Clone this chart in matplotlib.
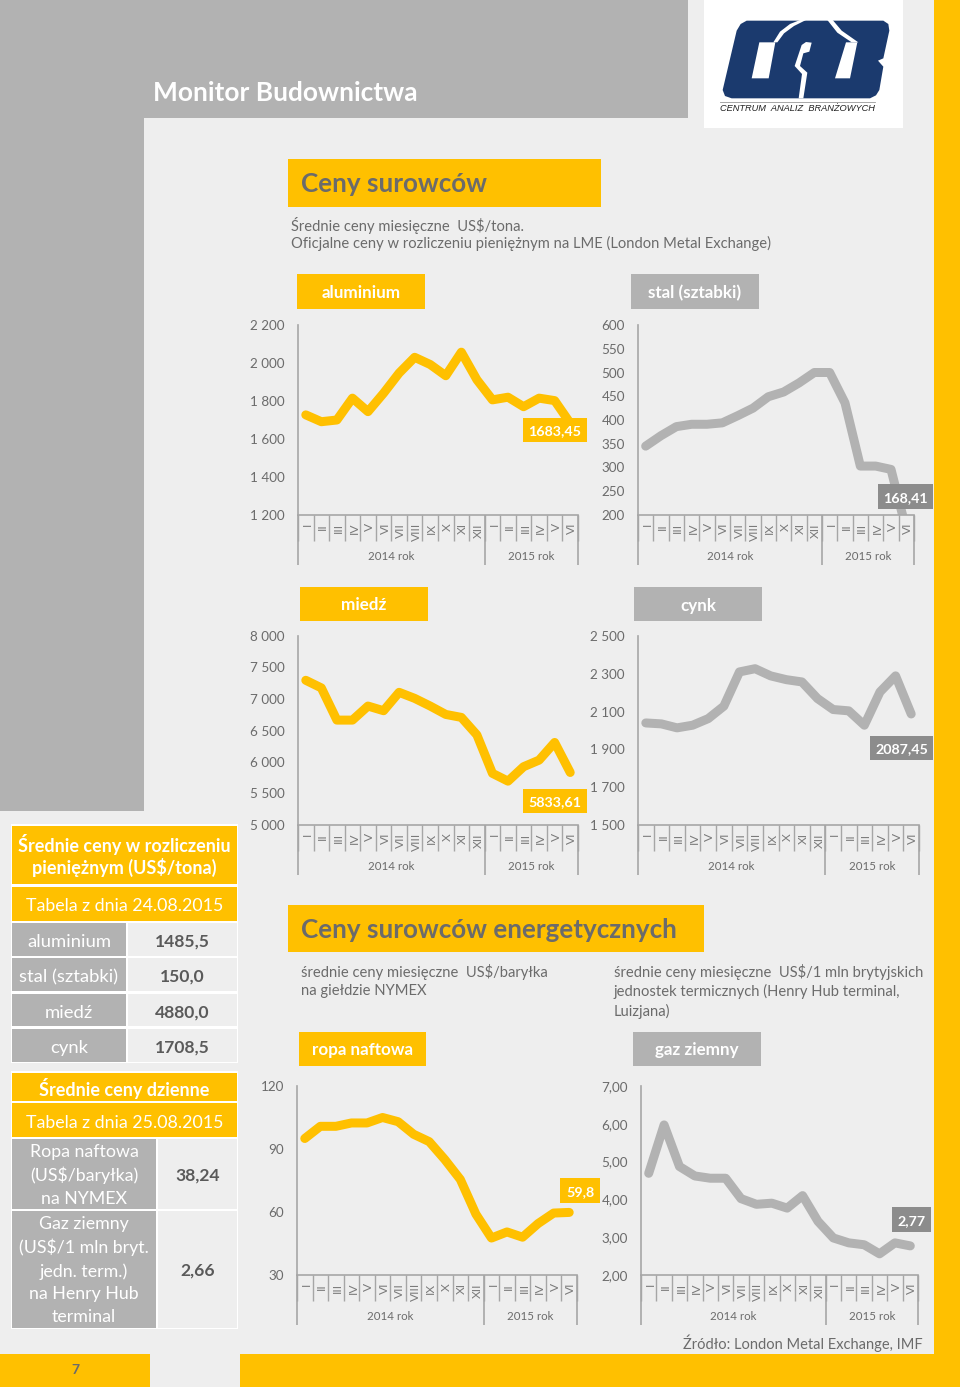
import matplotlib
matplotlib.use('Agg')
import matplotlib.pyplot as plt
from matplotlib.patches import Rectangle, Polygon
from matplotlib.transforms import ScaledTranslation

W, H = 960, 1387
YELLOW = '#FFC000'
GREY = '#B2B2B2'
DARK = '#8C8C8C'
TEXT = '#6B6B6B'
BG = '#EEEEEE'
AXIS = '#A6A6A6'
NAVY = '#1B3A6E'

plt.rcParams['font.family'] = ['Lato', 'DejaVu Sans']

months = ['I', 'II', 'III', 'IV', 'V', 'VI', 'VII', 'VIII', 'IX', 'X', 'XI', 'XII',
          'I', 'II', 'III', 'IV', 'V', 'VI']

aluminium = [1727, 1691, 1700, 1815, 1744, 1841, 1947, 2030, 1992, 1933, 2057, 1912,
             1806, 1820, 1770, 1815, 1802, 1683.45]
stal = [345, 367, 386, 391, 391, 394, 409, 425, 449, 459, 478, 500,
        500, 436, 303, 303, 296, 168.41]
miedz = [7297, 7176, 6665, 6665, 6888, 6814, 7106, 7010, 6888, 6755, 6708, 6430,
         5820, 5696, 5925, 6030, 6310, 5833.61]
cynk = [2040, 2035, 2014, 2028, 2063, 2129, 2310, 2327, 2289, 2269, 2257, 2169,
        2111, 2104, 2028, 2204, 2289, 2087.45]
ropa = [95, 100.8, 100.8, 102.4, 102.4, 105, 103, 97, 93.5, 85, 75.5, 59,
        47.6, 50.5, 48, 54.5, 59.5, 59.8]
gaz = [4.69, 5.97, 4.87, 4.62, 4.56, 4.56, 4.02, 3.87, 3.9, 3.77, 4.1, 3.42,
       2.98, 2.85, 2.8, 2.56, 2.85, 2.77]

alu_ticks = [1200, 1400, 1600, 1800, 2000, 2200]
alu_labels = ['1 200', '1 400', '1 600', '1 800', '2 000', '2 200']
stal_ticks = [200, 250, 300, 350, 400, 450, 500, 550, 600]
stal_labels = ['200', '250', '300', '350', '400', '450', '500', '550', '600']
miedz_ticks = [5000, 5500, 6000, 6500, 7000, 7500, 8000]
miedz_labels = ['5 000', '5 500', '6 000', '6 500', '7 000', '7 500', '8 000']
cynk_ticks = [1500, 1700, 1900, 2100, 2300, 2500]
cynk_labels = ['1 500', '1 700', '1 900', '2 100', '2 300', '2 500']
ropa_ticks = [30, 60, 90, 120]
ropa_labels = ['30', '60', '90', '120']
gaz_ticks = [2, 3, 4, 5, 6, 7]
gaz_labels = ['2,00', '3,00', '4,00', '5,00', '6,00', '7,00']

fig = plt.figure(figsize=(W / 100, H / 100), dpi=100, facecolor=BG)
bg = fig.add_axes([0, 0, 1, 1], zorder=0)
top = fig.add_axes([0, 0, 1, 1], zorder=10)
for a in (bg, top):
    a.set_xlim(0, W)
    a.set_ylim(H, 0)
    a.axis('off')


def px(size):
    return size * 0.72


def box(x0, y0, x1, y1, color, a=bg):
    a.add_patch(Rectangle((x0, y0), x1 - x0, y1 - y0, fc=color, ec='none'))


def txt(x, y, s, size, color=TEXT, ha='left', weight='normal', a=bg, **kw):
    a.text(x, y + 1.5, s, fontsize=px(size), color=color, ha=ha, va='center',
           fontweight=weight, **kw)


def label(x0, y0, x1, y1, color, s, size=17, a=bg, weight='bold'):
    box(x0, y0, x1, y1, color, a)
    txt((x0 + x1) / 2, (y0 + y1) / 2, s, size, 'white', 'center', weight, a)


def chart(x0, x1, y0, y1, values, ticks, ticklabels, color):
    ax = fig.add_axes([x0 / W, 1 - y1 / H, (x1 - x0) / W, (y1 - y0) / H], zorder=5)
    ax.patch.set_visible(False)
    ax.plot(range(18), values, color=color, lw=px(9), solid_capstyle='round',
            solid_joinstyle='round')
    ax.set_xlim(-0.5, 17.5)
    ax.set_ylim(ticks[0], ticks[-1])
    ax.set_yticks(ticks, ticklabels)
    ax.set_xticks(range(18), months, rotation=90)
    ax.set_xticks([i - 0.5 for i in range(19)], minor=True)
    ax.tick_params(axis='y', length=0, pad=px(13), labelsize=px(13.5), labelcolor=TEXT)
    ax.tick_params(axis='x', which='major', length=0, pad=px(8), labelsize=px(12), labelcolor='#7A7A7A')
    ax.tick_params(axis='x', which='minor', length=px(26), width=1, color=AXIS)
    shift = ScaledTranslation(1.5 / 100, 0, fig.dpi_scale_trans)
    for lab in ax.get_xticklabels():
        lab.set_va('top')
        lab.set_transform(lab.get_transform() + shift)
    for s in ('top', 'right'):
        ax.spines[s].set_visible(False)
    for s in ('left', 'bottom'):
        ax.spines[s].set_color(AXIS)
        ax.spines[s].set_linewidth(1.2)
    # long separators under the axis, years between them
    low = -50 / (y1 - y0)
    ax.vlines([-0.5, 11.5, 17.5], low, 0, color=AXIS, lw=1.2, clip_on=False,
              transform=ax.get_xaxis_transform())
    ymid = -41 / (y1 - y0)
    ax.text(5.5, ymid, '2014 rok', transform=ax.get_xaxis_transform(), ha='center',
            va='center', fontsize=px(11.5), color=TEXT)
    ax.text(14.5, ymid, '2015 rok', transform=ax.get_xaxis_transform(), ha='center',
            va='center', fontsize=px(11.5), color=TEXT)
    return ax


# page background blocks
box(0, 0, 144, 811, GREY)
box(0, 0, 688, 118, GREY)
box(934, 0, 960, H, YELLOW)
box(0, 1354, 150, H, YELLOW)
box(240, 1354, 960, H, YELLOW)

# logo
box(704, 0, 903, 128, 'white')
lx = lambda v: 720 + v / 3
ly = lambda v: 10 + v / 3
def poly(pts, color):
    bg.add_patch(Polygon([(lx(a), ly(b)) for a, b in pts], fc=color, ec='none'))
poly([(8, 240), (50, 62), (62, 42), (80, 32), (490, 32), (505, 42), (508, 62), (490, 145),
      (474, 152), (490, 170), (478, 240), (468, 256), (450, 265), (35, 265), (15, 258)], NAVY)
poly([(118, 97), (166, 97), (146, 205), (95, 205)], 'white')
poly([(378, 97), (412, 97), (390, 205), (345, 205)], 'white')
poly([(160, 97), (180, 65), (210, 42), (240, 30), (258, 30), (222, 48), (192, 70), (172, 97)], 'white')
poly([(322, 30), (338, 30), (365, 62), (415, 97), (395, 97), (352, 68)], 'white')
poly([(245, 105), (258, 96), (275, 98), (268, 125), (250, 130), (240, 168), (262, 188),
      (250, 265), (236, 265), (246, 192), (224, 168)], 'white')
bg.plot([lx(0), lx(465)], [ly(277), ly(277)], color='#999999', lw=0.6)
bg.text(797, 108.5, 'CENTRUM  ANALIZ  BRANŻOWYCH', fontsize=px(9.3), style='italic',
        family='Liberation Sans', color='#222222', ha='center', va='center')

# headings
txt(153, 91.5, 'Monitor Budownictwa', 26.3, 'white', weight='bold')
box(288, 159, 601, 207, YELLOW)
txt(301, 183, 'Ceny surowców', 26, TEXT, weight='bold')
txt(291, 224, 'Średnie ceny miesięczne  US$/tona.', 14.7)
txt(291, 242, 'Oficjalne ceny w rozliczeniu pieniężnym na LME (London Metal Exchange)', 14.7)

box(288, 905, 704, 952, YELLOW)
txt(301, 929, 'Ceny surowców energetycznych', 26, TEXT, weight='bold')
txt(301, 971, 'średnie ceny miesięczne  US$/baryłka', 14.7)
txt(301, 990, 'na giełdzie NYMEX', 14.7)
txt(614, 971, 'średnie ceny miesięczne  US$/1 mln brytyjskich', 14.7)
txt(614, 990, 'jednostek termicznych (Henry Hub terminal,', 14.7)
txt(614, 1010, 'Luizjana)', 14.7)
txt(683, 1342, 'Źródło: London Metal Exchange, IMF', 14.6)

# chart title boxes
label(297, 274, 425, 309, YELLOW, 'aluminium', 17)
label(631, 274, 759, 309, GREY, 'stal (sztabki)', 17)
label(300, 587, 428, 621, YELLOW, 'miedź', 17)
label(634, 587, 762, 621, GREY, 'cynk', 17)
label(299, 1032, 426, 1066, YELLOW, 'ropa naftowa', 17)
label(633, 1032, 761, 1066, GREY, 'gaz ziemny', 17)

# charts
chart(298, 578, 325, 515, aluminium, alu_ticks, alu_labels, YELLOW)
chart(638, 914, 325, 515, stal, stal_ticks, stal_labels, GREY)
chart(298, 578, 636, 825, miedz, miedz_ticks, miedz_labels, YELLOW)
chart(638, 919, 636, 825, cynk, cynk_ticks, cynk_labels, GREY)
chart(297, 577, 1086, 1275, ropa, ropa_ticks, ropa_labels, YELLOW)
chart(641, 918, 1086, 1275, gaz, gaz_ticks, gaz_labels, GREY)

# end of line value labels
label(523, 418, 587, 442, YELLOW, '1683,45', 14.3, top)
label(878, 484, 933, 509, DARK, '168,41', 14.3, top)
label(523, 789, 587, 813, YELLOW, '5833,61', 14.3, top)
label(870, 736, 933, 760, DARK, '2087,45', 14.3, top)
label(560, 1178, 600, 1203, YELLOW, '59,8', 14.3, top)
label(892, 1207, 931, 1232, DARK, '2,77', 14.3, top)

# left tables
box(11, 824, 238, 1063, 'white')
box(12, 826, 237, 884, YELLOW)
txt(124.5, 843, 'Średnie ceny w rozliczeniu', 18, 'white', 'center', 'bold')
txt(124.5, 866, 'pieniężnym (US$/tona)', 18, 'white', 'center', 'bold')
label(12, 887, 237, 922, YELLOW, 'Tabela z dnia 24.08.2015', 17.8, weight='normal')
box(12, 921, 237, 923, 'white')
rows1 = [('aluminium', '1485,5', 923, 956), ('stal (sztabki)', '150,0', 958, 991),
         ('miedź', '4880,0', 994, 1026), ('cynk', '1708,5', 1029, 1062)]
for name, val, y0, y1 in rows1:
    box(12, y0, 126, y1, GREY)
    txt(69, (y0 + y1) / 2 + 1, name, 18.5, 'white', 'center')
    box(128, y0, 237, y1, BG)
    txt(182.5, (y0 + y1) / 2 + 1, val, 17.5, '#5A5A5A', 'center', 'bold')

box(11, 1071, 238, 1329, 'white')
label(12, 1073, 237, 1101, YELLOW, 'Średnie ceny dzienne', 18)
box(12, 1103, 237, 1137, YELLOW)
txt(124.5, 1121, 'Tabela z dnia 25.08.2015', 17.8, 'white', 'center')
box(12, 1139, 156, 1209, GREY)
box(158, 1139, 237, 1209, BG)
box(12, 1211, 156, 1328, GREY)
box(158, 1211, 237, 1328, BG)
for y, s in zip([1151, 1174, 1198], ['Ropa naftowa', '(US$/baryłka)', 'na NYMEX']):
    txt(84, y, s, 17.8, 'white', 'center')
for y, s in zip([1223, 1246, 1270, 1293, 1316],
                ['Gaz ziemny', '(US$/1 mln bryt.', 'jedn. term.)', 'na Henry Hub', 'terminal']):
    txt(84, y, s, 17.8, 'white', 'center')
txt(197.5, 1174, '38,24', 17.5, '#5A5A5A', 'center', 'bold')
txt(197.5, 1269, '2,66', 17.5, '#5A5A5A', 'center', 'bold')

txt(75, 1369, '7', 14, TEXT, 'center', 'bold')

plt.savefig('out.png', dpi=100, facecolor=fig.get_facecolor())
